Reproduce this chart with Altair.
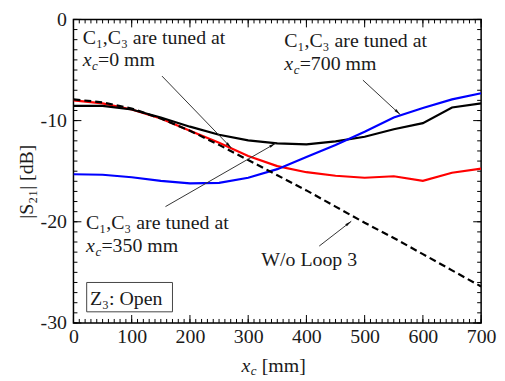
import math
import altair as alt
import pandas as pd

# ---------------- data ----------------
xc_mm = [0, 50, 100, 150, 200, 250, 300, 350, 400, 450, 500, 550, 600, 650, 700]
s21_wo_loop3 = [-7.9, -8.2, -8.8, -9.8, -11.0, -12.4, -13.9, -15.4, -16.9, -18.5, -20.1, -21.6, -23.2, -24.8, -26.4]
s21_tuned_0 = [-8.0, -8.3, -8.9, -9.8, -11.0, -12.2, -13.5, -14.5, -15.1, -15.45, -15.65, -15.5, -15.95, -15.15, -14.75]
s21_tuned_350 = [-8.55, -8.55, -8.9, -9.7, -10.6, -11.4, -11.95, -12.25, -12.35, -12.05, -11.6, -10.85, -10.25, -8.7, -8.3]
s21_tuned_700 = [-15.3, -15.35, -15.6, -15.95, -16.2, -16.15, -15.65, -14.8, -13.6, -12.4, -11.1, -9.7, -8.75, -7.9, -7.3]

x_major = [0, 100, 200, 300, 400, 500, 600, 700]
x_minor = list(range(0, 701, 10))
y_major = [0, -10, -20, -30]
y_minor = list(range(-30, 1, 1))

# annotation texts
note_lines = ["C\u2081,C\u2083 are tuned at", "C\u2081,C\u2083 are tuned at", "C\u2081,C\u2083 are tuned at",
              "W/o Loop 3", "Z\u2083: Open"]
note_x = [15.8, 362, 21.6, 322.5, 28.4]
note_y = [-2.45, -2.75, -20.7, -24.4, -28.2]

xc_rest = ["=0 mm", "=700 mm", "=350 mm", "[mm]"]
xc_x = [15.8, 362, 21.6, 288.4]
xc_y = [-4.65, -5.0, -23.0, -34.8]
xc_gap = [15.5, 15.5, 15.5, 20.5]   # where the text after the subscript starts (px)

# arrows (start -> end, data units)
arr_x1 = [152, 158, 497, 422]
arr_y1 = [-5.6, -18.5, -6.0, -22.4]
arr_x2 = [271, 347, 561, 477]
arr_y2 = [-12.7, -12.25, -9.4, -19.95]

box_x1, box_x2 = [22.7], [170.0]
box_y1, box_y2 = [-26.0], [-28.9]

# ---------------- layout ----------------
W, H = 411, 306
FONT = "Liberation Serif"
TXT = "#1a1a1a"
MAJ, MIN = 8, 4

xs = alt.Scale(domain=[0, 700], nice=False, zero=False)
ys = alt.Scale(domain=[-30, 0], nice=False, zero=False)

x_label_axis = alt.Axis(orient="bottom", values=x_major, ticks=False, tickSize=0, domain=False, grid=False,
                        labelFont=FONT, labelFontSize=20, labelColor=TXT, labelPadding=4,
                        labelFlush=False, labelOverlap=False, title=None)
y_label_axis = alt.Axis(orient="left", values=y_major, ticks=False, tickSize=0, domain=False, grid=False,
                        labelFont=FONT, labelFontSize=20, labelColor=TXT, labelPadding=7,
                        labelFlush=False, labelOverlap=False, labelExpr="'' + datum.value",
                        title="|S\u2082\u2081| [dB]", titleFont=FONT, titleFontSize=20,
                        titleFontWeight="normal", titleColor=TXT, titlePadding=4, titleY=H / 2 + 10)


def series_df(vals):
    return pd.DataFrame({"xc": xc_mm, "s21": vals})


def line_layer(vals, color, xaxis=None, yaxis=None, dash=None):
    kw = dict(color=color, strokeWidth=2.2, clip=True)
    if dash:
        kw["strokeDash"] = dash
    return alt.Chart(series_df(vals)).mark_line(**kw).encode(
        x=alt.X("xc:Q", scale=xs, axis=xaxis),
        y=alt.Y("s21:Q", scale=ys, axis=yaxis),
    )


red = line_layer(s21_tuned_0, "#ff0000")
black = line_layer(s21_tuned_350, "#000000")
blue = line_layer(s21_tuned_700, "#0000ff")
dashed = line_layer(s21_wo_loop3, "#000000", x_label_axis, y_label_axis, dash=[7, 4])


# inward tick marks, positioned through the scales
def xticks(values, length):
    df = pd.DataFrame({"v": values})
    bottom = alt.Chart(df).mark_rule(color="#000", strokeWidth=1).encode(
        x=alt.X("v:Q", scale=xs, axis=None), y=alt.value(H), y2=alt.value(H - length))
    top = alt.Chart(df).mark_rule(color="#000", strokeWidth=1).encode(
        x=alt.X("v:Q", scale=xs, axis=None), y=alt.value(0), y2=alt.value(length))
    return [bottom, top]


def yticks(values, length):
    df = pd.DataFrame({"v": values})
    left = alt.Chart(df).mark_rule(color="#000", strokeWidth=1).encode(
        y=alt.Y("v:Q", scale=ys, axis=None), x=alt.value(0), x2=alt.value(length))
    right = alt.Chart(df).mark_rule(color="#000", strokeWidth=1).encode(
        y=alt.Y("v:Q", scale=ys, axis=None), x=alt.value(W), x2=alt.value(W - length))
    return [left, right]


tick_layers = xticks(x_major, MAJ) + xticks(x_minor, MIN) + yticks(y_major, MAJ) + yticks(y_minor, MIN)

# arrows
px_mm = W / 700.0
px_db = H / 30.0
angles = []
for a, b, c, d in zip(arr_x1, arr_y1, arr_x2, arr_y2):
    dx = (c - a) * px_mm
    dy = -(d - b) * px_db
    angles.append(math.degrees(math.atan2(dx, -dy)) % 360)

arr_df = pd.DataFrame({"x1": arr_x1, "y1": arr_y1, "x2": arr_x2, "y2": arr_y2, "ang": angles})
arrow_lines = alt.Chart(arr_df).mark_rule(color="#333333", strokeWidth=1).encode(
    x=alt.X("x1:Q", scale=xs, axis=None),
    y=alt.Y("y1:Q", scale=ys, axis=None),
    x2="x2:Q", y2="y2:Q",
)
arrow_heads = alt.Chart(arr_df).mark_point(
    shape="M0,0 L0.45,2.2 L-0.45,2.2 Z", filled=True, color="#111111", size=36, opacity=1
).encode(
    x=alt.X("x2:Q", scale=xs, axis=None),
    y=alt.Y("y2:Q", scale=ys, axis=None),
    angle=alt.Angle("ang:Q", scale=None),
)

# text
notes_df = pd.DataFrame({"x": note_x, "y": note_y, "t": note_lines})
notes = alt.Chart(notes_df).mark_text(
    font=FONT, fontSize=20, align="left", baseline="alphabetic", color=TXT
).encode(x=alt.X("x:Q", scale=xs, axis=None), y=alt.Y("y:Q", scale=ys, axis=None), text="t:N")

xc_df = pd.DataFrame({"x": xc_x, "y": xc_y, "t": xc_rest, "gap": xc_gap})
xc_x_mark = alt.Chart(xc_df).mark_text(
    font=FONT, fontSize=20, fontStyle="italic", align="left", baseline="alphabetic", color=TXT, text="x"
).encode(x=alt.X("x:Q", scale=xs, axis=None), y=alt.Y("y:Q", scale=ys, axis=None))
xc_c_mark = alt.Chart(xc_df).mark_text(
    font=FONT, fontSize=13, fontStyle="italic", align="left", baseline="alphabetic", color=TXT, text="c",
    dx=9.5, dy=4
).encode(x=alt.X("x:Q", scale=xs, axis=None), y=alt.Y("y:Q", scale=ys, axis=None))
xc_rest_mark = alt.Chart(xc_df).transform_calculate(
    xg="datum.x + datum.gap * 700 / %f" % W
).mark_text(
    font=FONT, fontSize=20, align="left", baseline="alphabetic", color=TXT
).encode(x=alt.X("xg:Q", scale=xs, axis=None), y=alt.Y("y:Q", scale=ys, axis=None), text="t:N")

box_df = pd.DataFrame({"x1": box_x1, "x2": box_x2, "y1": box_y1, "y2": box_y2})
box = alt.Chart(box_df).mark_rect(fill="white", fillOpacity=0, stroke="#444444", strokeWidth=1).encode(
    x=alt.X("x1:Q", scale=xs, axis=None), x2="x2:Q",
    y=alt.Y("y1:Q", scale=ys, axis=None), y2="y2:Q",
)

chart = alt.layer(
    box, *tick_layers, red, black, blue, dashed, arrow_lines, arrow_heads,
    notes, xc_x_mark, xc_c_mark, xc_rest_mark
).resolve_axis(x="independent", y="independent").properties(
    width=W, height=H,
    autosize=alt.AutoSizeParams(type="none"),
    padding={"left": 66, "top": 10, "right": 16, "bottom": 57},
    background="white",
).configure_view(stroke="#000000", strokeWidth=1.5)

chart.save("out.html", embed_options={"renderer": "svg", "actions": False})
